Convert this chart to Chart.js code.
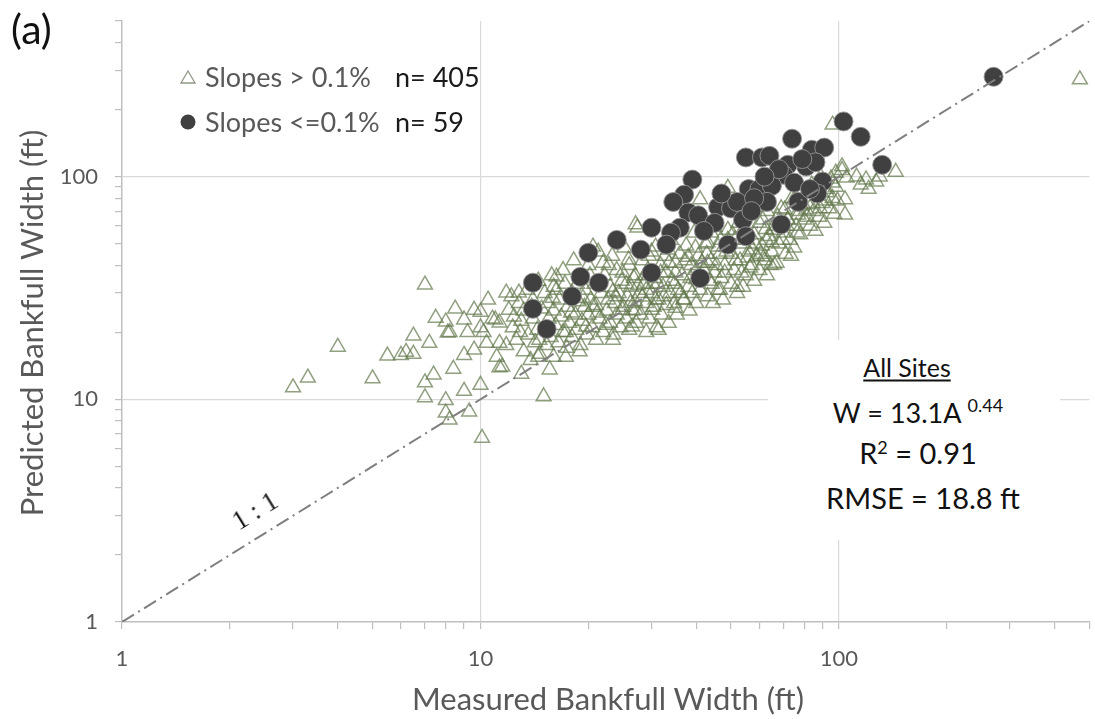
<!DOCTYPE html>
<html>
<head>
<meta charset="utf-8">
<script src="https://cdn.jsdelivr.net/npm/chart.js@4.4.1/dist/chart.umd.min.js"></script>
<style>
  html, body { margin: 0; padding: 0; background: #fff; overflow: hidden; }
  #wrap { position: relative; width: 1100px; height: 719px; font-family: Lato, "Open Sans", sans-serif; }
  #chart { position: absolute; left: 0; top: 0; }
  .t { position: absolute; white-space: nowrap; line-height: 1; }
  .c { transform: translate(-50%, -50%); }
</style>
</head>
<body>
<div id="wrap">
  <canvas id="chart" width="1100" height="719"></canvas>

  <div class="t" style="left:11px; top:8px; font-size:41px; color:#111;">(a)</div>

  <!-- legend -->
  <svg class="t" style="left:180px; top:69px;" width="16" height="16" viewBox="0 0 16 16">
    <polygon points="8,2 15,14 1,14" fill="none" stroke="#8f9a86" stroke-width="1.3"/>
  </svg>
  <div class="t" style="left:205px; top:63px; font-size:27px; color:#595959;">Slopes &gt; 0.1%</div>
  <div class="t" style="left:395px; top:63px; font-size:27px; color:#1a1a1a;">n= 405</div>
  <svg class="t" style="left:180px; top:114px;" width="16" height="16" viewBox="0 0 16 16">
    <circle cx="8" cy="8" r="7.5" fill="#404040"/>
  </svg>
  <div class="t" style="left:205px; top:108px; font-size:27px; color:#595959;">Slopes &lt;=0.1%</div>
  <div class="t" style="left:395px; top:108px; font-size:27px; color:#1a1a1a;">n= 59</div>

  <!-- axis titles -->
  <div class="t c" style="left:608px; top:698px; font-size:31px; color:#595959;">Measured Bankfull Width (ft)</div>
  <div class="t" style="left:31px; top:323px; font-size:31px; color:#595959; transform: translate(-50%, -50%) rotate(-90deg);">Predicted Bankfull Width (ft)</div>

  <!-- 1:1 line label -->
  <div class="t" style="left:255px; top:511px; font-family:'Liberation Serif', serif; font-size:27px; color:#1a1a1a; transform: translate(-50%, -50%) rotate(-31.6deg);">1 : 1</div>

  <!-- regression summary -->
  <div style="position:absolute; left:768px; top:340px; width:292px; height:200px; background:#fff;"></div>
  <div class="t c" style="left:907px; top:367px; font-size:25px; color:#111; text-decoration:underline; text-underline-offset:3px;">All Sites</div>
  <div class="t c" style="left:918px; top:412px; font-size:27px; color:#111;">W = 13.1A <span style="font-size:18px; position:relative; top:-11px;">0.44</span></div>
  <div class="t c" style="left:918px; top:452px; font-size:29px; color:#111;">R<span style="font-size:18px; position:relative; top:-10px;">2</span> = 0.91</div>
  <div class="t c" style="left:923px; top:497px; font-size:29px; color:#111;">RMSE = 18.8 ft</div>
</div>

<script>
// Tick positions for both log axes, and which of them carry a label
const tickMarks = [1, 2, 3, 4, 5, 6, 7, 8, 9, 10, 20, 30, 40, 50, 60, 70, 80, 90, 100, 200, 300, 400, 500];
const labelledTicks = [1, 10, 100];
const gridTicks = [10, 100];
const axisMin = 1;
const axisMax = 500;

// Reference line (measured = predicted)
const oneToOne = [[1, 1], [500, 500]];

// Sites with slope <= 0.1% : [measured, predicted] bankfull width (ft)
const flatSites = [
  [270, 281], [103, 177], [115, 151], [132, 113], [74, 148], [55, 122], [61, 122], [64, 124],
  [84, 132], [91, 135], [72, 113], [81, 111], [86, 116], [65, 99], [70, 102], [90, 95],
  [56, 88], [60, 88], [65, 91], [63, 77], [46, 73], [50, 72], [52, 77], [39, 97],
  [37, 83], [34.5, 77], [38, 69], [40.5, 67], [54, 64], [77, 77], [87, 84], [69, 61],
  [55, 54], [49, 49.5], [36, 59], [34, 56], [30, 59], [33, 49.5], [28, 47], [30, 37],
  [41, 35], [24, 52], [20, 45.5], [19, 35.5], [21.4, 33.4], [18, 29], [14, 33.4], [14, 25.5],
  [15.3, 20.7], [58, 80], [45, 62], [75, 94], [42, 57], [83, 88], [68, 108], [57, 70],
  [79, 120], [47, 84], [62, 100]
];

// Sites with slope > 0.1% : [measured, predicted] bankfull width (ft)
const steepSites = [
  [3.0, 11.3], [3.3, 12.5], [4.0, 17.2], [5.0, 12.4], [5.5, 15.7], [6.0, 15.8], [6.2, 16.3], [6.5, 16.0],
  [6.5, 19.3], [7.2, 17.9], [7.0, 32.7], [7.0, 11.9], [7.4, 12.9], [7.0, 10.2], [8.0, 9.9], [8.0, 8.7],
  [8.2, 8.1], [8.4, 13.7], [9.0, 10.9], [9.3, 8.8], [10.0, 11.6], [9.0, 15.8], [7.5, 23.2], [8.0, 22.3],
  [8.5, 25.5], [9.6, 25.2], [10.0, 24.7], [10.5, 28], [9.0, 22.8], [8.1, 19.9], [8.2, 20.0], [9.2, 20.0],
  [10.0, 21], [10.4, 17.9], [9.6, 16.7], [11.0, 22.8], [10.1, 6.7], [15.0, 10.3],
  [11.8, 30.1], [12.8, 30.1], [16.3, 35.5], [16.0, 32], [12.0, 25.2], [11.3, 22.1], [10.2, 20], [11.3, 17.9],
  [11.1, 15.5], [11.3, 13.9], [13.2, 16.4], [12.9, 20], [14.6, 18.5], [14.5, 15.5], [15.6, 13.6], [17.3, 15.5],
  [18.9, 16.4], [17.3, 20], [19.7, 21.2], [22.4, 21.6], [23.4, 18.5], [26.5, 21.2], [27.1, 25.2], [28.3, 28.9],
  [30.1, 25.2], [31.4, 20.5], [23.4, 30.4], [24.9, 37], [25.9, 42.4], [20.6, 48.4], [22.0, 41], [30.8, 48.4],
  [24.9, 25.2], [20.6, 26], [27.1, 61],
  [49, 89], [41, 79], [27.4, 59], [45, 59.5], [44, 56], [46, 48.4], [58.9, 73.4], [61.3, 64],
  [66, 57.6], [62.7, 52], [57.3, 47], [55.6, 43.3], [62, 43.7], [65, 50.6], [70.5, 71], [75, 79],
  [79, 85], [72, 64], [77, 67.5], [81, 71], [92.5, 85], [96, 94], [102, 111], [105, 99],
  [119, 97], [121, 88], [104, 79], [104, 67.5], [66, 40.2], [46.6, 31], [52, 32], [48, 37],
  [43, 41], [38, 43.6], [35, 37], [40, 34.5], [35, 25.7], [36.8, 28], [30.8, 28], [29, 31],
  [31.8, 37], [33.4, 47], [43, 50.6], [51.3, 52], [54.6, 59.5], [49, 57.6],
  [96, 171], [144, 105], [470, 273], [112, 100], [102, 107], [98, 104], [127, 95], [130, 100], [115, 92],
  [10.8, 23], [11.5, 14], [11.8, 17.5], [12.2, 29], [12.3, 21], [12.6, 18.5], [12.8, 27], [13.0, 13],
  [13.0, 22.5], [13.2, 25], [13.5, 31], [13.6, 19.5],
  [13.8, 15], [14.0, 23], [14.0, 28], [14.2, 18], [14.4, 20.5], [14.5, 34], [14.6, 16], [14.8, 25.5],
  [15.1, 30], [15.3, 17.5], [15.4, 27], [15.5, 23], [15.7, 19], [15.8, 36], [16.0, 15.5], [16.0, 25],
  [16.2, 21.5], [16.3, 31], [16.5, 18], [16.6, 28], [16.8, 23.5], [17.0, 20], [17.0, 38], [17.2, 33],
  [17.4, 17], [17.5, 26], [17.7, 22], [18.0, 19], [18.0, 30], [18.2, 42], [18.4, 24], [18.5, 20.5],
  [18.8, 27.5], [19.0, 17.5], [19.0, 35], [19.2, 22.5], [19.5, 26], [19.6, 31], [19.8, 19.5], [20.0, 24],
  [20.0, 40], [20.3, 28], [20.5, 21], [20.8, 33], [21.0, 18.5], [21.0, 26.5], [21.3, 46], [21.5, 23],
  [21.7, 30], [22.0, 20],
  [22.2, 36], [22.5, 25], [22.7, 28], [23.0, 22], [23.0, 32], [23.3, 44], [23.5, 19.5], [23.7, 27],
  [24.0, 24], [24.0, 38], [24.3, 30], [24.6, 21], [24.8, 34], [25.0, 26], [25.2, 48], [25.5, 23],
  [25.7, 29], [26.0, 20.5], [26.0, 40], [26.3, 32], [26.6, 25], [27.0, 27.5], [27.0, 36], [27.2, 22],
  [27.8, 30],
  [28.0, 24], [28.3, 42], [28.6, 33], [29.0, 20], [29.0, 27], [29.3, 38], [29.6, 23], [30.0, 30],
  [30.0, 46], [30.4, 26], [30.7, 35], [31.0, 21], [31.4, 28], [31.8, 40], [32.0, 24], [32.3, 32],
  [32.7, 44], [33.0, 26.5], [33.0, 37], [33.5, 22], [33.8, 30], [34.0, 52], [34.3, 34], [34.7, 27],
  [35.0, 41], [35.3, 24], [35.6, 31], [36.0, 45],
  [36.5, 36], [37.0, 28], [37.5, 49], [38.0, 32], [38.3, 25], [38.7, 40], [39.0, 30], [39.5, 56],
  [40.0, 27], [40.0, 38], [40.5, 44], [41.0, 31], [42.0, 38], [42.5, 50], [43.0, 29], [43.5, 34],
  [44.0, 42], [44.5, 27], [45.0, 37], [46.0, 31], [46.5, 45], [47.0, 35], [47.5, 28], [48.0, 40],
  [49, 52], [50, 33], [50, 45], [51, 38], [52, 30], [52.5, 62], [53, 42], [54, 32],
  [54, 50], [55, 36], [56, 46], [57, 40], [58, 34], [58, 55], [59, 44], [60, 38],
  [60, 62], [61, 49], [62, 42], [63, 70], [63, 36], [64, 54], [65, 46],
  [66, 60], [67, 41], [68, 50], [69, 72], [70, 56], [71, 45], [72, 64], [73, 52],
  [74, 80], [75, 48], [76, 60], [77, 70], [78, 55], [79, 88], [80, 64], [82, 75],
  [83, 60], [84, 92], [85, 70], [86, 57], [87, 82], [88, 66], [89, 100], [90, 76],
  [91, 62], [92, 88], [94, 72], [95, 98], [96, 80], [97, 68], [98, 90], [99, 78],
  [25.5, 33], [26.8, 35], [28.8, 36], [29.5, 44], [31.2, 33], [32.5, 29], [33.6, 41], [34.8, 33],
  [36.2, 30], [37.2, 42], [38.5, 35], [39.8, 48], [41.5, 41], [42.8, 45], [44.2, 33], [45.5, 40],
  [46.8, 52], [48.5, 46], [50.5, 55], [51.5, 42], [53.5, 37], [55.5, 52], [56.5, 39], [58.5, 50],
  [60.5, 45], [62.5, 58], [64.5, 40], [67.5, 66], [69.5, 52], [71.5, 60], [73.5, 44], [76.5, 56],
  [78.5, 74], [81.5, 66], [84.5, 76], [88.5, 72], [92, 78], [18.6, 33], [20.2, 36], [22.8, 40],
  [15.9, 28.5], [13.9, 26], [12.4, 23.5], [17.9, 24.5], [19.3, 28.5], [21.2, 24.5], [23.8, 29], [26.2, 27],
  [27.5, 32.5], [30.3, 33]
];

const toPoints = rows => rows.map(([x, y]) => ({ x, y }));
const FONT = 'Lato, "Open Sans", sans-serif';

function logAxis(position, size) {
  return {
    type: 'logarithmic',
    position,
    min: axisMin,
    max: axisMax,
    afterBuildTicks: scale => {
      scale.ticks = tickMarks.map(v => ({ value: v, major: labelledTicks.includes(v) }));
    },
    afterFit: scale => {
      // fixed axis band; the plot area itself is set by the layout padding
      if (position === 'bottom') scale.height = size; else scale.width = size;
      scale.paddingTop = scale.paddingBottom = scale.paddingLeft = scale.paddingRight = 0;
    },
    border: { color: '#bfbfbf', width: 1.5 },
    grid: {
      color: ctx => (ctx.tick && gridTicks.includes(ctx.tick.value)) ? '#d9d9d9' : 'rgba(0,0,0,0)',
      lineWidth: 1.2,
      tickColor: '#bfbfbf',
      tickLength: 7,
      drawTicks: true
    },
    ticks: {
      autoSkip: false,
      maxRotation: 0,
      padding: 17,
      color: '#595959',
      font: { family: FONT, size: 22 },
      callback: v => labelledTicks.includes(v) ? String(v) : ''
    }
  };
}

new Chart(document.getElementById('chart'), {
  type: 'scatter',
  data: {
    datasets: [
      {
        label: '1 : 1',
        data: toPoints(oneToOne),
        showLine: true,
        borderColor: '#7f7f7f',
        borderWidth: 2,
        borderDash: [14, 5, 2, 5],
        pointRadius: 0,
        order: 0
      },
      {
        label: 'Slopes <=0.1%',
        data: toPoints(flatSites),
        pointStyle: 'circle',
        pointRadius: 9.5,
        backgroundColor: '#404040',
        borderColor: 'rgba(150,150,150,0.9)',
        borderWidth: 1,
        order: 1
      },
      {
        label: 'Slopes > 0.1%',
        data: toPoints(steepSites),
        pointStyle: 'triangle',
        pointRadius: 8.6,
        backgroundColor: 'rgba(255,255,255,0)',
        borderColor: 'rgba(98,120,76,0.7)',
        borderWidth: 1.5,
        order: 2
      }
    ]
  },
  options: {
    responsive: false,
    animation: false,
    devicePixelRatio: 1,
    layout: { padding: { top: 21, right: 2, left: 0, bottom: 0 } },
    plugins: { legend: { display: false }, tooltip: { enabled: false } },
    scales: {
      x: logAxis('bottom', 97),
      y: logAxis('left', 122)
    }
  }
});
</script>
</body>
</html>
